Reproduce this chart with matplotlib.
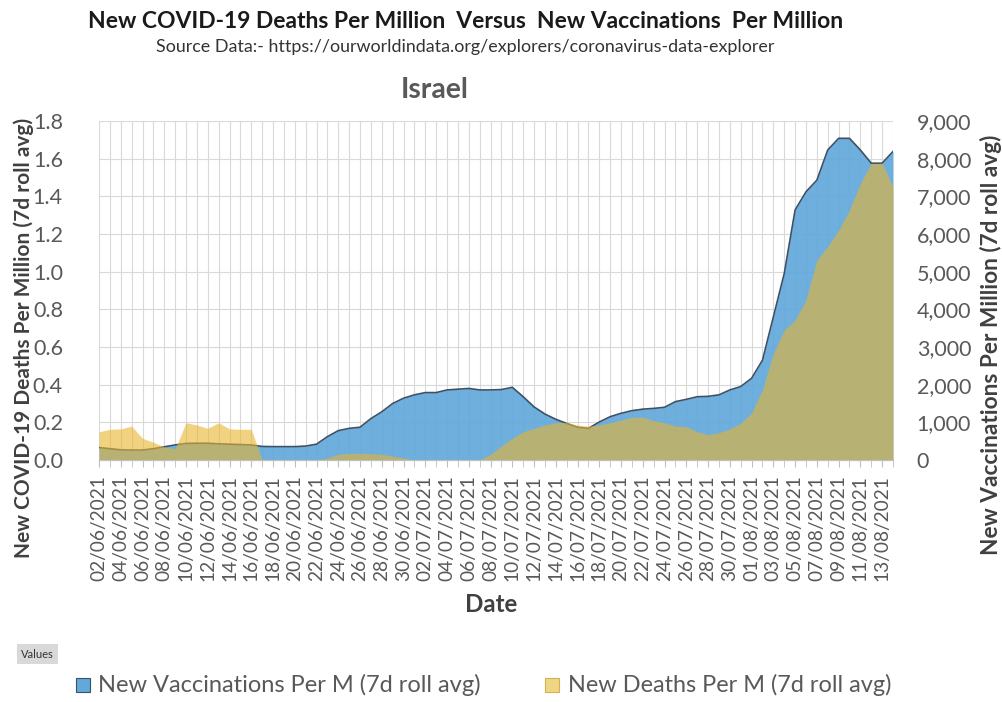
import matplotlib
matplotlib.use("Agg")
import matplotlib.pyplot as plt
from matplotlib.patches import Rectangle
import numpy as np
import pandas as pd

plt.rcParams['font.family'] = ['Lato', 'DejaVu Sans']

# daily dates 02/06/2021 .. 14/08/2021
dates = [d.strftime('%d/%m/%Y') for d in pd.date_range('2021-06-02', '2021-08-14')]

# new vaccinations per million, 7 day rolling average
vaccinations = [330, 300, 270, 265, 265, 300, 350, 400, 440, 445,
                445, 430, 420, 410, 400, 360, 355, 355, 355, 370,
                420, 620, 780, 840, 870, 1100, 1280, 1500, 1640, 1730,
                1790, 1790, 1860, 1880, 1900, 1860, 1860, 1870, 1930, 1680,
                1410, 1220, 1080, 970, 870, 840, 1010, 1150, 1240, 1310,
                1350, 1370, 1400, 1550, 1610, 1680, 1690, 1730, 1860, 1950,
                2170, 2650, 3800, 4950, 6640, 7120, 7430, 8230, 8540, 8540,
                8230, 7880, 7880, 8190]

# new deaths per million, 7 day rolling average
deaths = [0.150, 0.163, 0.165, 0.180, 0.115, 0.094, 0.070, 0.060, 0.198, 0.186,
          0.168, 0.198, 0.165, 0.163, 0.163, 0.0, 0.0, 0.0, 0.0, 0.0,
          0.0, 0.010, 0.030, 0.035, 0.035, 0.033, 0.030, 0.020, 0.010, 0.0,
          0.0, 0.0, 0.0, 0.0, 0.0, 0.0, 0.030, 0.075, 0.115, 0.150,
          0.168, 0.186, 0.198, 0.200, 0.185, 0.180, 0.186, 0.198, 0.212, 0.227,
          0.227, 0.209, 0.198, 0.180, 0.177, 0.150, 0.135, 0.145, 0.165, 0.195,
          0.250, 0.372, 0.566, 0.690, 0.743, 0.850, 1.062, 1.133, 1.221, 1.327,
          1.469, 1.575, 1.575, 1.451]

series_names = ['New Vaccinations Per M (7d roll avg)', 'New Deaths Per M (7d roll avg)']

blue = '#62A8DB'
yellow = '#E8B52E'
grid_col = '#d9d9d9'
text_col = '#595959'
W, H = 1002, 702


def fx(px):
    return px / W


def fy(py):
    return 1 - py / H


fig = plt.figure(figsize=(W / 100, H / 100), dpi=100)
renderer = fig.canvas.get_renderer()


def fit(t, size_px, vertical=False):
    # scale the font so the text covers size_px pixels along its run
    ext = t.get_window_extent(renderer)
    cur = ext.height if vertical else ext.width
    t.set_fontsize(t.get_fontsize() * size_px / cur)
    return t


x = np.arange(len(dates))

ax = fig.add_axes([fx(99), fy(460), fx(794), 339 / H])

# vaccinations go on the base axes, deaths on the twin so they sit on top
ax.set_axisbelow(True)
ax.fill_between(x, vaccinations, color=blue, alpha=0.92, lw=0, zorder=2)
ax.plot(x, vaccinations, color='#3d5166', lw=1.2, zorder=3)
ax.set_xlim(0, len(dates) - 1)
ax.set_ylim(0, 9000)
ax.set_yticks(range(0, 9001, 1000))
ax.set_yticklabels([f'{v:,}' for v in range(0, 9001, 1000)])
ax.set_xticks(x[::2])
ax.set_xticklabels(dates[::2], rotation=90)
ax.set_xticks(x, minor=True)
ax.grid(axis='y', color=grid_col, lw=0.8)
ax.grid(axis='x', which='both', color=grid_col, lw=0.8)

ax2 = ax.twinx()
ax2.fill_between(x, deaths, color=yellow, alpha=0.6, lw=0)
ax2.set_ylim(0, 1.8)
ax2.set_yticks(np.arange(0, 1.81, 0.2))
ax2.set_yticklabels([f'{v:.1f}' for v in np.arange(0, 1.81, 0.2)])

ax.yaxis.tick_right()
ax2.yaxis.tick_left()

for a in (ax, ax2):
    for s in ('top', 'left', 'right'):
        a.spines[s].set_visible(False)
    a.spines['bottom'].set_color('#bfbfbf')

ax.tick_params(axis='y', length=0, pad=17, labelsize=15.5, labelcolor=text_col)
ax2.tick_params(axis='y', length=0, pad=26, labelsize=15.5, labelcolor=text_col)
ax.tick_params(axis='x', which='both', length=5, color='#bfbfbf',
               labelcolor=text_col, pad=6)

# size the date labels to their run length
fig.canvas.draw()
lab = ax.get_xticklabels()[0]
h = lab.get_window_extent(renderer).height
ax.tick_params(axis='x', labelsize=lab.get_fontsize() * 106 / h)

fit(fig.text(fx(466), fy(22),
             'New COVID-19 Deaths Per Million  Versus  New Vaccinations  Per Million',
             ha='center', va='center', fontsize=15, fontweight='bold',
             color='#1a1a1a'), 758)
fit(fig.text(fx(465), fy(47),
             'Source Data:- https://ourworldindata.org/explorers/coronavirus-data-explorer',
             ha='center', va='center', fontsize=11, color='#333333'), 616)
fit(fig.text(fx(435), fy(90), 'Israel', ha='center', va='center',
             fontsize=18, fontweight='bold', color=text_col), 68)

fit(fig.text(fx(24), fy(338), 'New COVID-19 Deaths Per Million (7d roll avg)',
             rotation=90, ha='center', va='center', fontsize=13.5,
             fontweight='bold', color='#404040'), 440, vertical=True)
fit(fig.text(fx(991), fy(345), 'New Vaccinations Per Million (7d roll avg)',
             rotation=90, ha='center', va='center', fontsize=13.5,
             fontweight='bold', color='#404040'), 420, vertical=True)
fit(fig.text(fx(491), fy(605), 'Date', ha='center', va='center',
             fontsize=14, fontweight='bold', color='#404040'), 53)

fig.text(fx(21), fy(654), 'Values', ha='left', va='center', fontsize=8,
         color='#333333',
         bbox=dict(facecolor='#d9d9d9', edgecolor='none', pad=3))

# legend row
for (sq_x, tx_x, tx_w, face, edge), name in zip(
        [(76, 98, 385, blue, '#3d5166'), (545, 568, 325, '#F0D585', '#d4b14f')],
        series_names):
    fig.add_artist(Rectangle((fx(sq_x), fy(692)), fx(14), 14 / H,
                             facecolor=face, edgecolor=edge, lw=0.8,
                             transform=fig.transFigure))
    fit(fig.text(fx(tx_x), fy(685), name, ha='left', va='center',
                 fontsize=14, color=text_col), tx_w)

fig.savefig('out.png', dpi=100)
